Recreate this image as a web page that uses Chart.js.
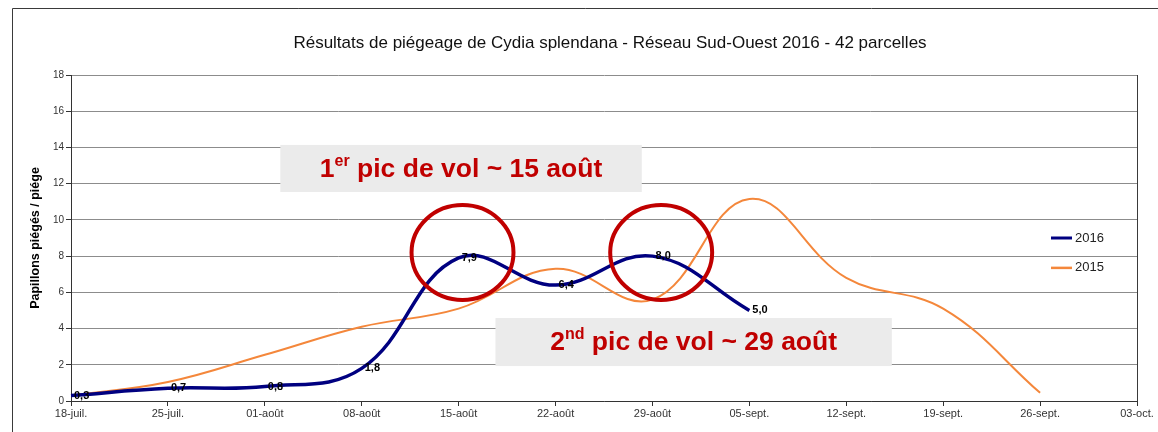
<!DOCTYPE html>
<html><head><meta charset="utf-8">
<script src="https://cdn.jsdelivr.net/npm/chart.js@4.4.1/dist/chart.umd.min.js"></script>
<style>html,body{margin:0;padding:0;background:#fff}#wrap{width:1158px;height:432px;position:relative}</style>
</head><body><div id="wrap"><canvas id="c" width="1158" height="432"></canvas></div>
<script>
const weekLabels = ['18-juil.','25-juil.','01-août','08-août','15-août','22-août','29-août','05-sept.','12-sept.','19-sept.','26-sept.','03-oct.'];
const values2016 = [0.3, 0.7, 0.8, 1.8, 7.9, 6.4, 8.0, 5.0];
const values2015 = [0.3, 1.05, 2.55, 4.1, 5.1, 7.3, 5.6, 11.15, 6.8, 5.1, 0.45];
const seriesNames = ['2016', '2015'];
const seriesColors = ['#000080', '#f4873b'];
const yMin = 0, yMax = 18, yStep = 2;
const chartTitle = 'Résultats de piégeage de Cydia splendana - Réseau Sud-Ouest 2016 - 42 parcelles';
const yAxisTitle = 'Papillons piégés / piége';
// annotations, in axis units (week index, value)
const peakBoxes = [
  {x0: 2.16, x1: 5.89, y0: 11.54, y1: 14.14, main: '1', sup: 'er', rest: ' pic de vol ~ 15 août'},
  {x0: 4.38, x1: 8.47, y0: 1.93, y1: 4.58, main: '2', sup: 'nd', rest: ' pic de vol ~ 29 août'}
];
const peakCircles = [{x: 4.04, y: 8.2, rx: 0.526, ry: 2.62}, {x: 6.09, y: 8.2, rx: 0.526, ry: 2.62}];

const FONT = '"Liberation Sans", Arial, sans-serif';

const deco = {
  id: 'deco',
  beforeDraw(chart) {
    const ctx = chart.ctx;
    ctx.save();
    ctx.fillStyle = '#fff';
    ctx.fillRect(0, 0, chart.width, chart.height);
    ctx.strokeStyle = '#3a3a3a';
    ctx.lineWidth = 1;
    ctx.beginPath();
    ctx.moveTo(12.5, chart.height);
    ctx.lineTo(12.5, 8.5);
    ctx.lineTo(chart.width, 8.5);
    ctx.stroke();
    ctx.fillStyle = '#111';
    ctx.font = '17px ' + FONT;
    ctx.textAlign = 'center';
    ctx.textBaseline = 'middle';
    ctx.fillText(chartTitle, 610, 43);
    ctx.restore();
  },
  beforeDatasetsDraw(chart) {
    const ctx = chart.ctx, xs = chart.scales.x, ys = chart.scales.y;
    ctx.save();
    peakBoxes.forEach(b => {
      const l = xs.getPixelForValue(b.x0), r = xs.getPixelForValue(b.x1);
      const t = ys.getPixelForValue(b.y1), bt = ys.getPixelForValue(b.y0);
      ctx.fillStyle = '#ebebeb';
      ctx.fillRect(l, t, r - l, bt - t);
      const big = 'bold 26.5px ' + FONT, small = 'bold 16px ' + FONT;
      ctx.font = big; const w1 = ctx.measureText(b.main).width; const w3 = ctx.measureText(b.rest).width;
      ctx.font = small; const w2 = ctx.measureText(b.sup).width;
      let x = (l + r) / 2 - (w1 + w2 + w3) / 2;
      const cy = (t + bt) / 2 + 1;
      ctx.fillStyle = '#c00000';
      ctx.textBaseline = 'middle';
      ctx.textAlign = 'left';
      ctx.font = big; ctx.fillText(b.main, x, cy); x += w1;
      ctx.font = small; ctx.fillText(b.sup, x, cy - 8); x += w2;
      ctx.font = big; ctx.fillText(b.rest, x, cy);
    });
    ctx.restore();
  },
  afterDatasetsDraw(chart) {
    const ctx = chart.ctx, xs = chart.scales.x, ys = chart.scales.y, ca = chart.chartArea;
    ctx.save();
    // right frame
    ctx.strokeStyle = '#3a3a3a'; ctx.lineWidth = 1;
    ctx.beginPath(); ctx.moveTo(Math.round(ca.right) + 0.5, ca.top); ctx.lineTo(Math.round(ca.right) + 0.5, ca.bottom); ctx.stroke();
    // circles
    ctx.strokeStyle = '#c00000'; ctx.lineWidth = 4;
    peakCircles.forEach(c => {
      const cx = xs.getPixelForValue(c.x), cy = ys.getPixelForValue(c.y);
      const rx = xs.getPixelForValue(c.x + c.rx) - cx, ry = cy - ys.getPixelForValue(c.y + c.ry);
      ctx.beginPath(); ctx.ellipse(cx, cy, rx, ry, 0, 0, Math.PI * 2); ctx.stroke();
    });
    // data labels for 2016
    const meta = chart.getDatasetMeta(0);
    ctx.fillStyle = '#000'; ctx.font = 'bold 11px ' + FONT; ctx.textAlign = 'left'; ctx.textBaseline = 'middle';
    meta.data.forEach((pt, i) => {
      const v = values2016[i];
      if (v == null) return;
      ctx.fillText(v.toFixed(1).replace('.', ','), pt.x + 3, pt.y);
    });
    // legend
    const lx = ca.right - 86;
    const ly = [ys.getPixelForValue(9.0), ys.getPixelForValue(7.35)];
    chart.data.datasets.forEach((ds, i) => {
      ctx.strokeStyle = ds.borderColor; ctx.lineWidth = i === 0 ? 3 : 2.5;
      ctx.beginPath(); ctx.moveTo(lx, ly[i]); ctx.lineTo(lx + 21, ly[i]); ctx.stroke();
      ctx.fillStyle = '#222'; ctx.font = '13px ' + FONT; ctx.textAlign = 'left'; ctx.textBaseline = 'middle';
      ctx.fillText(ds.label, lx + 24, ly[i]);
    });
    ctx.restore();
  }
};

new Chart(document.getElementById('c'), {
  type: 'line',
  data: {
    labels: weekLabels,
    datasets: [
      {label: seriesNames[0], data: values2016, borderColor: seriesColors[0], backgroundColor: seriesColors[0], borderWidth: 3.5, pointRadius: 0, tension: 0.4, fill: false},
      {label: seriesNames[1], data: values2015, borderColor: seriesColors[1], backgroundColor: seriesColors[1], borderWidth: 2, pointRadius: 0, tension: 0.4, fill: false}
    ]
  },
  options: {
    responsive: false,
    animation: false,
    layout: {padding: {top: 75, left: 0, right: 21, bottom: 0}},
    plugins: {legend: {display: false}, title: {display: false}, tooltip: {enabled: false}},
    scales: {
      x: {
        offset: false,
        grid: {drawOnChartArea: false, drawTicks: true, tickLength: 5, color: '#333', offset: false},
        border: {color: '#333'},
        ticks: {color: '#333', font: {family: FONT, size: 11}, padding: 1, maxRotation: 0, autoSkip: false},
        afterFit(s) { s.height = 31; }
      },
      y: {
        min: yMin, max: yMax,
        grid: {color: '#8c8c8c', tickLength: 5, tickColor: '#333'},
        border: {color: '#333'},
        ticks: {stepSize: yStep, color: '#333', font: {family: FONT, size: 10}, padding: 2},
        title: {display: true, text: yAxisTitle, color: '#000', font: {family: FONT, size: 12.5, weight: 'bold'}, padding: {top: 28, bottom: 0}},
        afterFit(s) { s.width = 71; }
      }
    }
  },
  plugins: [deco]
});
</script></body></html>
